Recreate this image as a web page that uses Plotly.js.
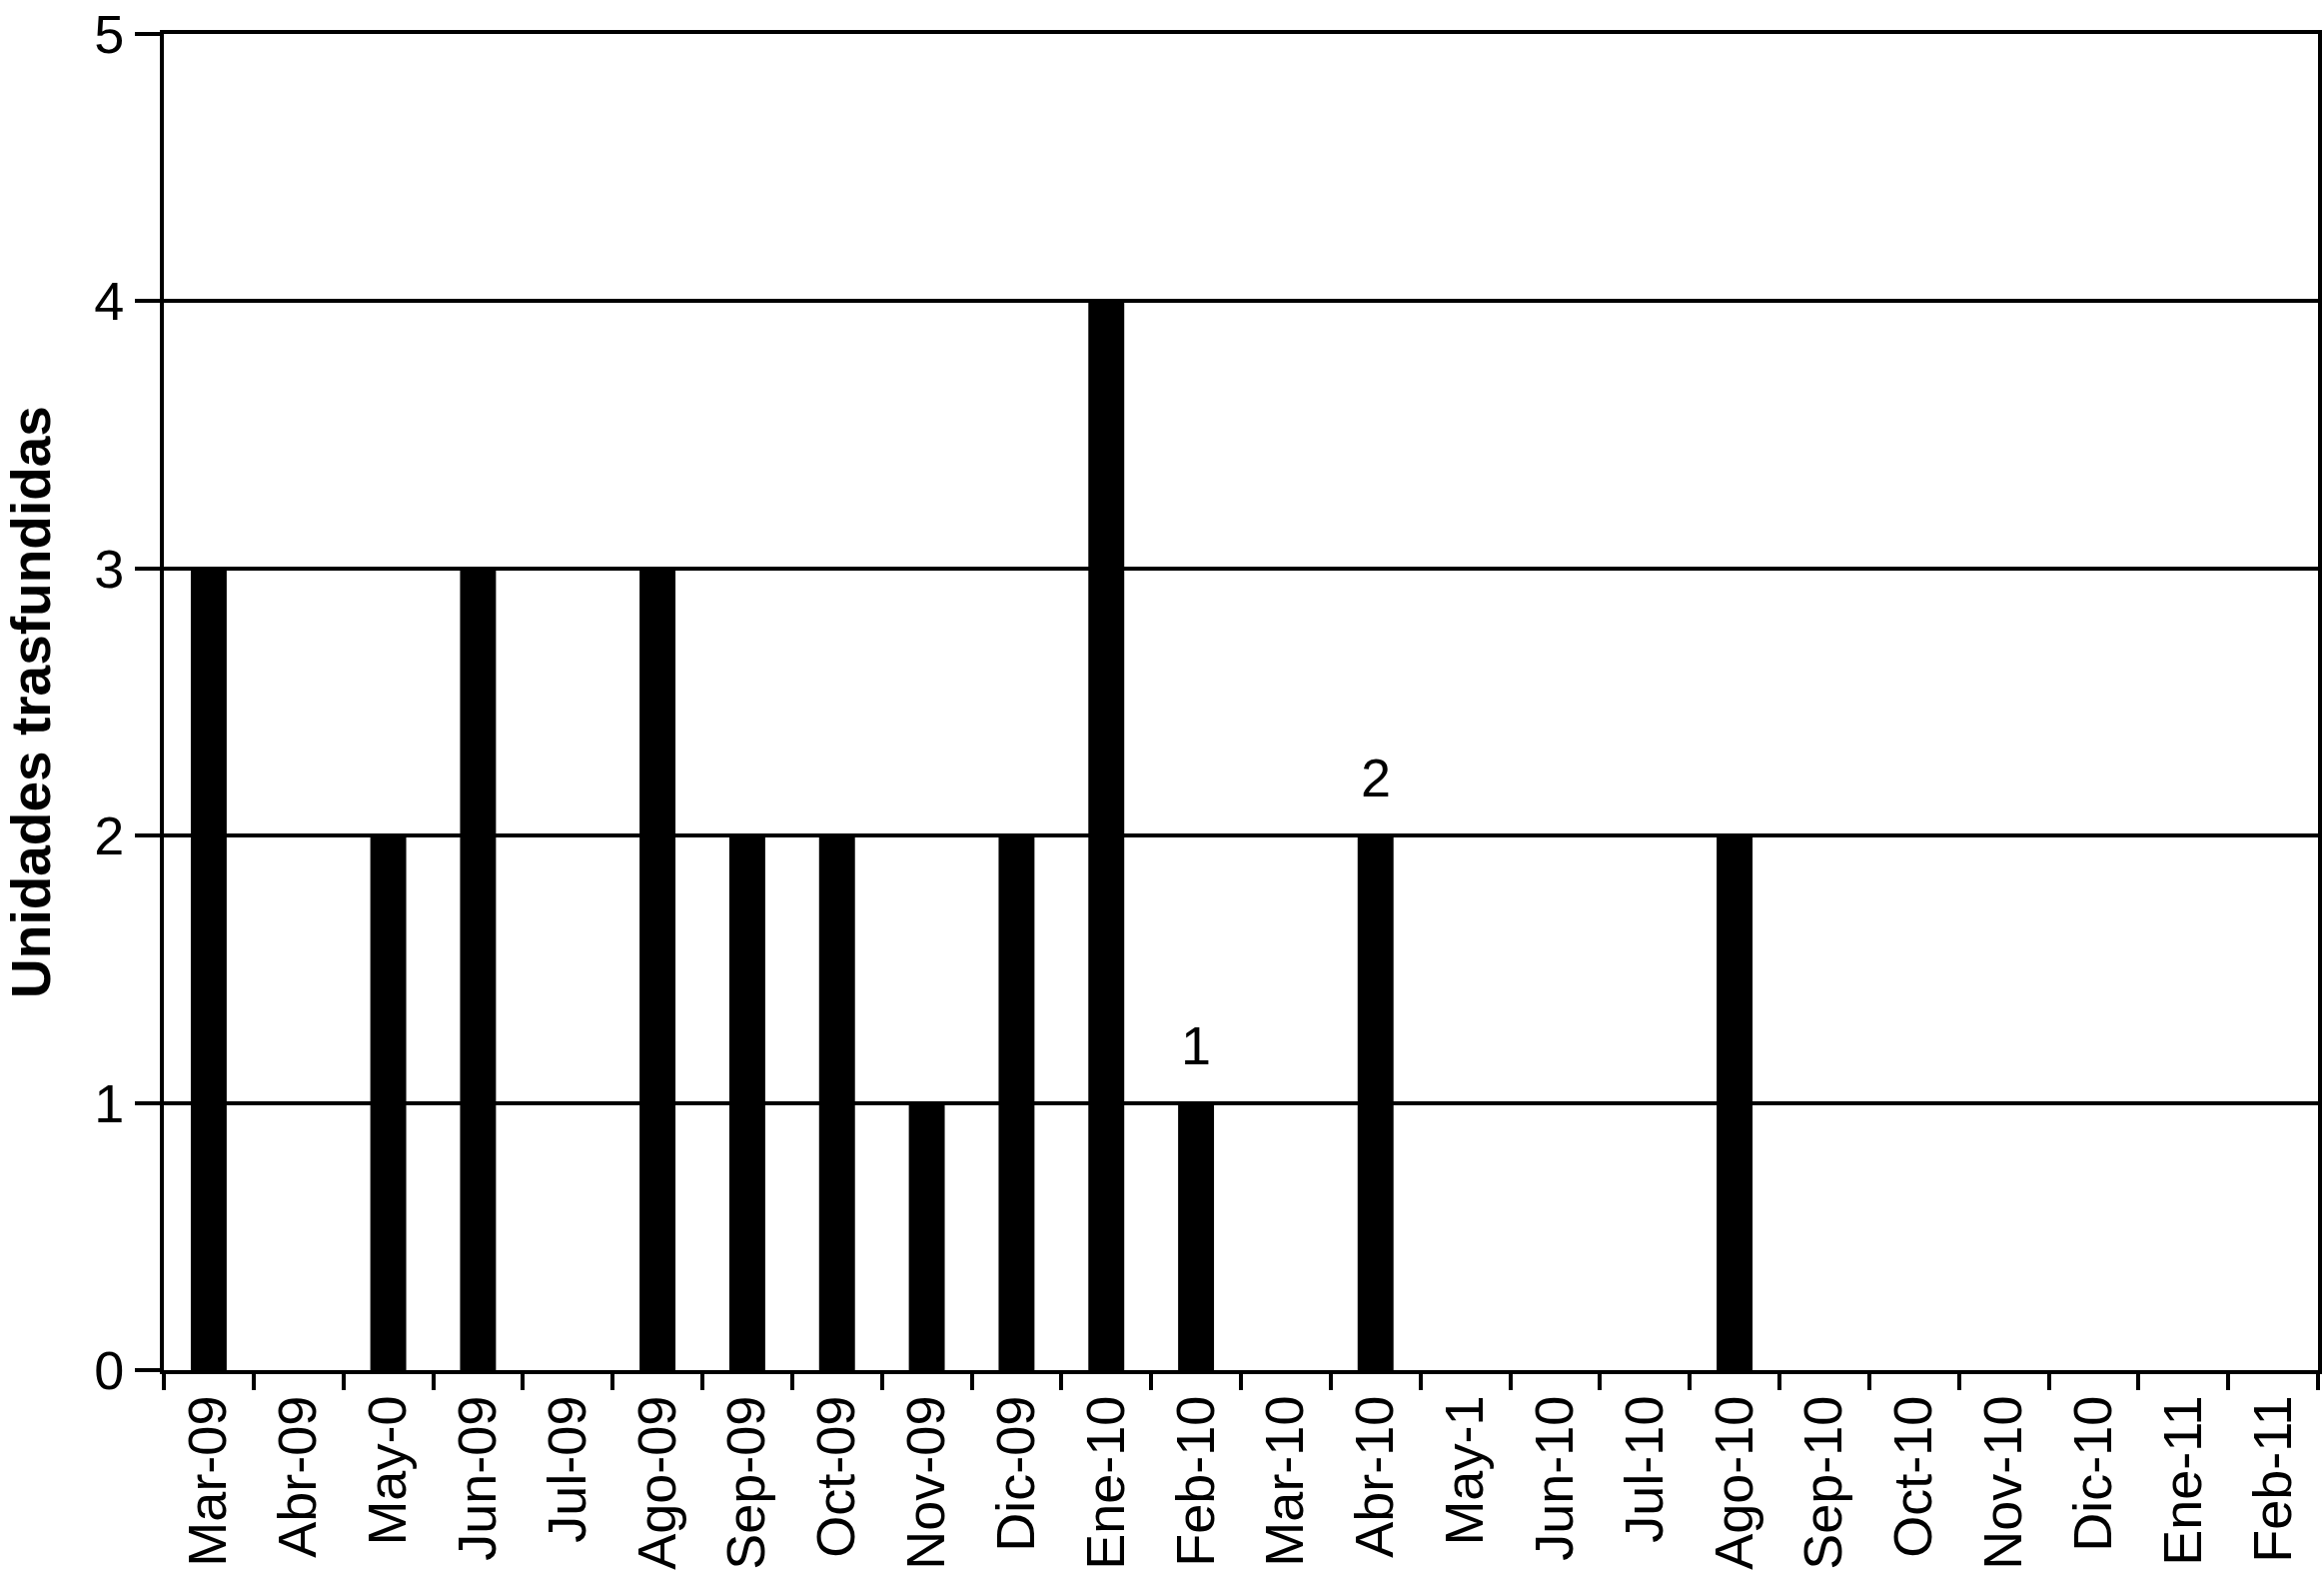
<!DOCTYPE html>
<html>
<head>
<meta charset="utf-8">
<script src="https://cdn.plot.ly/plotly-3.0.1.min.js"></script>
<style>
  html, body { margin: 0; padding: 0; background: #fff; }
  #chart { width: 2326px; height: 1583px; }
</style>
</head>
<body>
<div id="chart"></div>
<script>
// months as printed on the axis (the two "May" labels are cut short in the source)
let months = ['Mar-09', 'Abr-09', 'May-0', 'Jun-09', 'Jul-09', 'Ago-09', 'Sep-09', 'Oct-09',
  'Nov-09', 'Dic-09', 'Ene-10', 'Feb-10', 'Mar-10', 'Abr-10', 'May-1', 'Jun-10',
  'Jul-10', 'Ago-10', 'Sep-10', 'Oct-10', 'Nov-10', 'Dic-10', 'Ene-11', 'Feb-11'];

let units = [3, 0, 2, 3, 0, 3, 2, 2, 1, 2, 4, 1, 0, 2, 0, 0, 0, 2, 0, 0, 0, 0, 0, 0];

// value labels only shown over a couple of bars
let shown_labels = [null, null, null, null, null, null, null, null, null, null, null, 1,
  null, 2, null, null, null, null, null, null, null, null, null, null];

let yticks = [0, 1, 2, 3, 4, 5];

let font_family = 'Liberation Sans, Arial, Helvetica, sans-serif';

let bars = {
  x: months,
  y: units,
  type: 'bar',
  marker: {color: '#000', line: {width: 0}},
  hoverinfo: 'x+y'
};

let notes = [];
for (let i = 0; i < months.length; i++) {
  if (shown_labels[i] === null) continue;
  notes.push({
    x: months[i],
    y: units[i],
    text: String(shown_labels[i]),
    showarrow: false,
    yanchor: 'bottom',
    yshift: 26,
    font: {family: font_family, size: 54, color: '#000'}
  });
}

let layout = {
  width: 2326,
  height: 1583,
  margin: {l: 164, r: 6, t: 34, b: 212},
  paper_bgcolor: '#fff',
  plot_bgcolor: '#fff',
  showlegend: false,
  bargap: 0.6,
  font: {family: font_family, color: '#000'},
  xaxis: {
    type: 'category',
    tickson: 'boundaries',
    ticks: 'outside',
    ticklen: 16,
    tickwidth: 4,
    tickcolor: '#000',
    tickangle: -90,
    tickfont: {family: font_family, size: 54, color: '#000'},
    showline: true,
    linecolor: '#000',
    linewidth: 4,
    mirror: true,
    showgrid: false,
    zeroline: false,
    automargin: false
  },
  yaxis: {
    range: [0, 5],
    tickvals: yticks,
    ticks: 'outside',
    ticklen: 25,
    tickwidth: 4,
    tickcolor: '#000',
    tickfont: {family: font_family, size: 54, color: '#000'},
    ticklabeloverflow: 'allow',
    showline: true,
    linecolor: '#000',
    linewidth: 4,
    mirror: true,
    showgrid: true,
    gridcolor: '#000',
    gridwidth: 4,
    zeroline: false,
    automargin: false,
    title: {
      text: '<b>Unidades trasfundidas</b>',
      font: {family: font_family, size: 55, color: '#000'},
      standoff: 32
    }
  },
  annotations: notes
};

Plotly.newPlot('chart', [bars], layout, {displayModeBar: false, staticPlot: true});
</script>
</body>
</html>
